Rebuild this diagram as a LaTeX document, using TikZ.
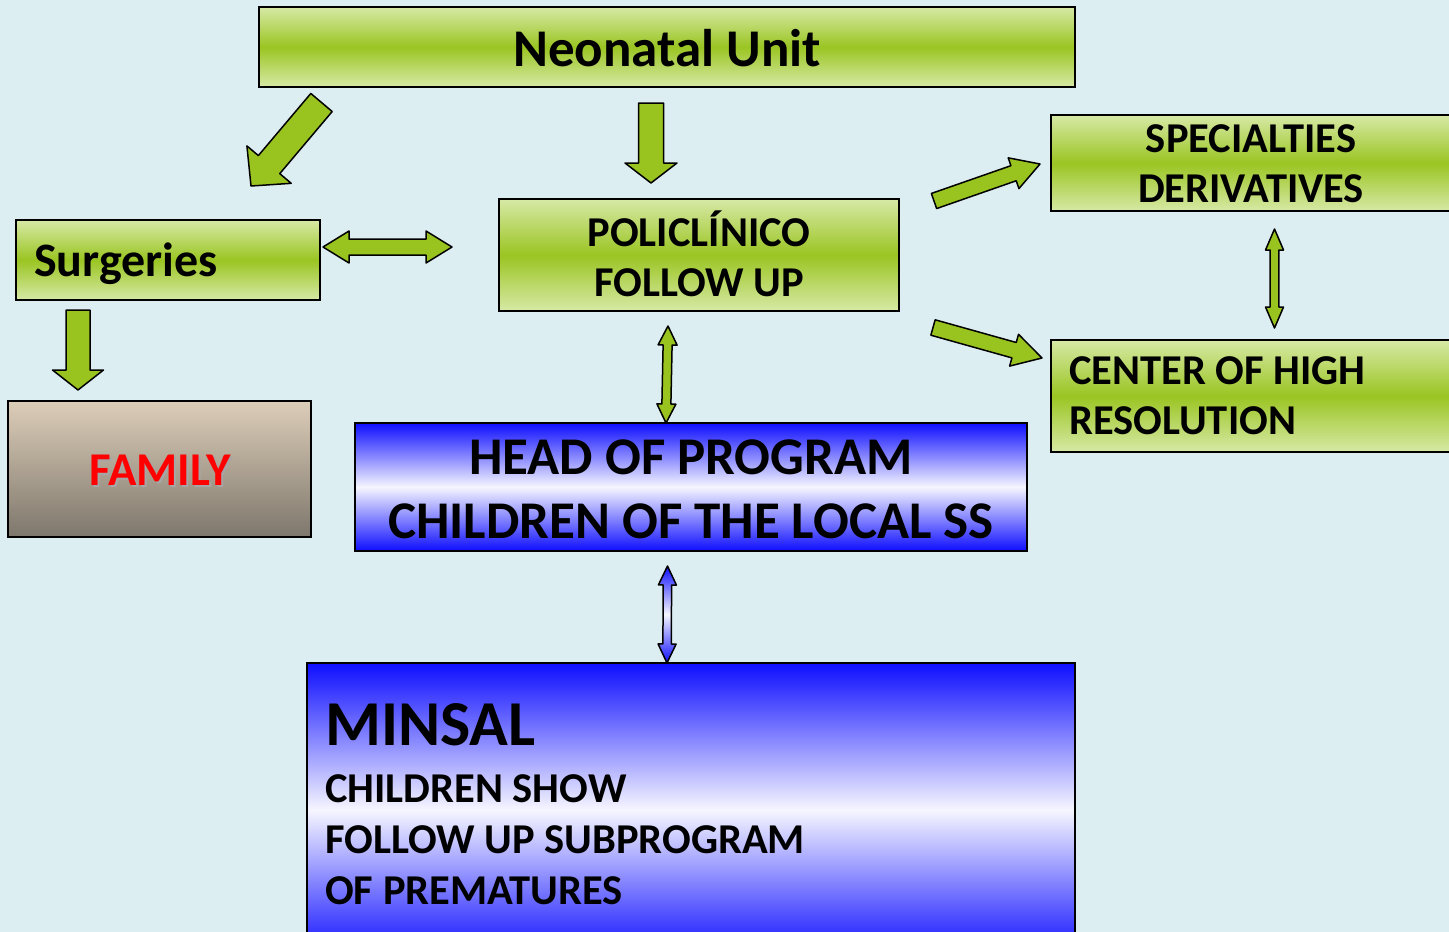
\documentclass[tikz,border=0pt]{standalone}
\usepackage{fontspec}
\setmainfont{Carlito}
\usetikzlibrary{calc}
\definecolor{bg}{HTML}{DDEEF2}
\definecolor{lgreen}{HTML}{D7E9A6}
\definecolor{dgreen}{HTML}{9AC522}
\definecolor{agreen}{HTML}{99C420}
\definecolor{bblue}{HTML}{0E0EFF}
\definecolor{wblue}{HTML}{F6F6FF}
\definecolor{ftop}{HTML}{DCCDB8}
\definecolor{fbot}{HTML}{7E776C}
\definecolor{fred}{HTML}{FF0000}
\pgfdeclareverticalshading{greenbar}{100bp}{color(0bp)=(lgreen); color(25bp)=(lgreen); color(50bp)=(dgreen); color(75bp)=(lgreen); color(100bp)=(lgreen)}
\pgfdeclareverticalshading{bluebar}{100bp}{color(0bp)=(bblue); color(25bp)=(bblue); color(50bp)=(wblue); color(75bp)=(bblue); color(100bp)=(bblue)}
\pgfdeclareverticalshading{famshade}{100bp}{color(0bp)=(fbot); color(25bp)=(fbot); color(75bp)=(ftop); color(100bp)=(ftop)}
\newcommand\blockarrow[6]{%
  \coordinate (bn) at ($(#3)!#6!(#2)$);
  \draw[#1] ($(#2)!#4!90:(#3)$) -- ($(bn)!#4!90:(#3)$) -- ($(bn)!#5!90:(#3)$) -- (#3)
    -- ($(bn)!#5!-90:(#3)$) -- ($(bn)!#4!-90:(#3)$) -- ($(#2)!#4!-90:(#3)$) -- cycle;}
\newcommand\dblarrow[6]{%
  \coordinate (bna) at ($(#2)!#6!(#3)$);
  \coordinate (bnb) at ($(#3)!#6!(#2)$);
  \draw[#1] (#2) -- ($(bna)!#5!90:(#3)$) -- ($(bna)!#4!90:(#3)$) -- ($(bnb)!#4!90:(#3)$)
    -- ($(bnb)!#5!90:(#3)$) -- (#3) -- ($(bnb)!#5!-90:(#3)$) -- ($(bnb)!#4!-90:(#3)$)
    -- ($(bna)!#4!-90:(#3)$) -- ($(bna)!#5!-90:(#3)$) -- cycle;}
\tikzset{
  box/.style={rectangle, draw=black, line width=1.6pt, inner sep=0pt},
  gbox/.style={box, shading=greenbar},
  bbox/.style={box, shading=bluebar},
  txt/.style={inner sep=0pt, font=\bfseries, text=black},
  mid/.style={font=\bfseries\fontsize{42.5}{42.5}\selectfont},
  garrow/.style={draw=black, line width=1.5pt, line join=round, fill=agreen},
  barrow/.style={draw=black, line width=1.5pt, line join=round, shading=bluebar},
}
\begin{document}
\begin{tikzpicture}[x=1pt, y=-1pt]
\useasboundingbox (0,0) rectangle (1449,932);
\fill[bg] (0,0) rectangle (1449,932);
\clip (0,0) rectangle (1449,932);

% boxes
\node[gbox, minimum width=816pt, minimum height=80pt] (nu) at (667,47) {};
\node[gbox, minimum width=304pt, minimum height=80pt] (sur) at (168,260) {};
\node[gbox, minimum width=400pt, minimum height=112pt] (pol) at (699,255) {};
\node[gbox, minimum width=419pt, minimum height=96pt] (spe) at (1260.5,163) {};
\node[gbox, minimum width=419pt, minimum height=112pt] (cen) at (1260.5,396) {};
\node[box, shading=famshade, minimum width=303pt, minimum height=136pt] (fam) at (159.5,469) {};
\node[bbox, minimum width=672pt, minimum height=128pt] (head) at (691,487) {};
\node[bbox, minimum width=768pt, minimum height=294pt] (min) at (691,810) {};

% texts
\node[txt, anchor=base, font=\bfseries\fontsize{53}{53}\selectfont] (t-nu) at (667,66) {Neonatal Unit};
\node[txt, anchor=base west, font=\bfseries\fontsize{48}{48}\selectfont] (t-sur) at (34,276) {Surgeries};
\node[txt, anchor=base, mid] (t-pol1) at (699,246) {POLICLÍNICO};
\node[txt, anchor=base, mid] (t-pol2) at (699,296) {FOLLOW UP};
\node[txt, anchor=base, mid] (t-spe1) at (1251,152) {SPECIALTIES};
\node[txt, anchor=base, mid] (t-spe2) at (1251,202) {DERIVATIVES};
\node[txt, anchor=base west, mid] (t-cen1) at (1069,384) {CENTER OF HIGH};
\node[txt, anchor=base west, mid] (t-cen2) at (1069,434) {RESOLUTION};
\node[txt, anchor=base, text=fred, font=\bfseries\fontsize{47}{47}\selectfont] (t-fam) at (160,485)
  {\makebox[0pt][l]{\hspace{2pt}\raisebox{-2pt}{\color{black!35}FAMILY}}FAMILY};
\node[txt, anchor=base, font=\bfseries\fontsize{53}{53}\selectfont] (t-head1) at (691,474) {HEAD OF PROGRAM};
\node[txt, anchor=base, font=\bfseries\fontsize{53}{53}\selectfont] (t-head2) at (691,538) {CHILDREN OF THE LOCAL SS};
\node[txt, anchor=base west, font=\bfseries\fontsize{64}{64}\selectfont] (t-min1) at (325,745) {MINSAL};
\node[txt, anchor=base west, mid] (t-min2) at (325,802) {CHILDREN SHOW};
\node[txt, anchor=base west, mid] (t-min3) at (325,853) {FOLLOW UP SUBPROGRAM};
\node[txt, anchor=base west, mid] (t-min4) at (325,904) {OF PREMATURES};

% arrow end points
\coordinate (a1t) at (321.5,102.5); \coordinate (a1h) at (251,186);
\coordinate (a2t) at (651,103);     \coordinate (a2h) at (651,183);
\coordinate (a3t) at (78,310);      \coordinate (a3h) at (78,390);
\coordinate (a4a) at (323,247);     \coordinate (a4b) at (452,247);
\coordinate (a5t) at (934,201);     \coordinate (a5h) at (1040,164);
\coordinate (a6t) at (933,327.5);   \coordinate (a6h) at (1042,358);
\coordinate (a7a) at (1274.5,229);  \coordinate (a7b) at (1274.5,328);
\coordinate (a8a) at (668,326);     \coordinate (a8b) at (666,423);
\coordinate (a9a) at (667.5,566);   \coordinate (a9b) at (667,663);

\blockarrow{garrow}{a1t}{a1h}{14pt}{29pt}{28pt}
\blockarrow{garrow}{a2t}{a2h}{12.5pt}{26pt}{20pt}
\blockarrow{garrow}{a3t}{a3h}{12pt}{25.5pt}{20pt}
\dblarrow{garrow}{a4a}{a4b}{8pt}{16pt}{26pt}
\blockarrow{garrow}{a5t}{a5h}{8pt}{16.3pt}{28pt}
\blockarrow{garrow}{a6t}{a6h}{8pt}{16.5pt}{29pt}
\dblarrow{garrow}{a7a}{a7b}{4.3pt}{9pt}{21pt}
\dblarrow{garrow}{a8a}{a8b}{4.5pt}{9.5pt}{19pt}
\dblarrow{barrow}{a9a}{a9b}{4.2pt}{9pt}{19pt}
\end{tikzpicture}
\end{document}
